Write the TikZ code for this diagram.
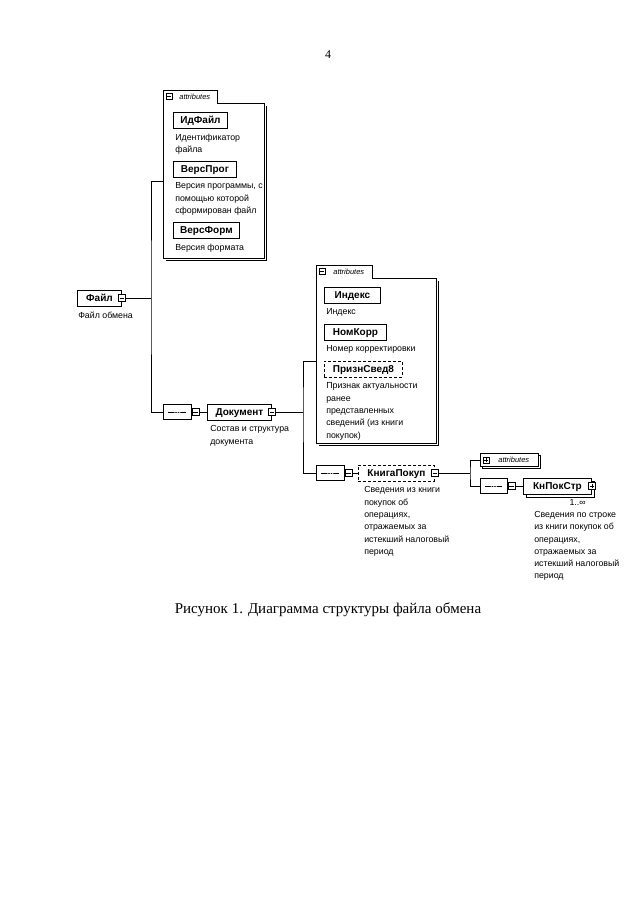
\documentclass[tikz,border=0pt]{standalone}
\usepackage{fontspec}
\setmainfont{Liberation Serif}
\newfontfamily\diagfont{Liberation Sans}
\usetikzlibrary{shapes.misc, positioning, shadows}

\begin{document}
\begin{tikzpicture}[
        x=1pt, y=-1pt,
        line width=0.6pt,
        desc/.style={font=\diagfont\fontsize{8.8}{12.3}\selectfont, align=left, inner sep=0pt, anchor=north west},
        elem/.style={rectangle, draw, line width=0.9pt, fill=white, font=\diagfont\bfseries\fontsize{10}{12}\selectfont, minimum height=16pt, text height=7.8pt, text depth=1.6pt, inner xsep=3pt, inner ysep=0pt, anchor=west},
        optelem/.style={elem, densely dashed},
        multi/.style={elem, copy shadow={shadow xshift=3pt, shadow yshift=-3pt}},
        btn/.style={rectangle, draw, line width=0.6pt, fill=white, minimum size=7pt, inner sep=0pt, path picture={\draw ([xshift=1.3pt]path picture bounding box.west) -- ([xshift=-1.3pt]path picture bounding box.east);}},
        btnplus/.style={btn, path picture={\draw ([xshift=1.3pt]path picture bounding box.west) -- ([xshift=-1.3pt]path picture bounding box.east); \draw ([yshift=1.3pt]path picture bounding box.south) -- ([yshift=-1.3pt]path picture bounding box.north);}},
        seq/.style={chamfered rectangle, chamfered rectangle xsep=4pt, draw, fill=white, minimum width=28pt, minimum height=15pt, inner sep=0pt, anchor=west, path picture={\draw ([xshift=5pt]path picture bounding box.west) -- ([xshift=-5pt]path picture bounding box.east); \foreach \dx in {-2.4pt, 0pt, 2.4pt} \fill ([xshift=\dx]path picture bounding box.center) circle (0.8pt);}},
        grp/.style={rectangle, inner sep=0pt, anchor=north west},
        grptab/.style={rectangle, inner xsep=2pt, inner ysep=0pt, minimum height=12pt, anchor=south west, font=\diagfont\itshape\fontsize{7.5}{8}\selectfont},
        grpcoll/.style={rectangle, draw, fill=white, inner xsep=2pt, inner ysep=0pt, minimum height=13pt, anchor=west, font=\diagfont\itshape\fontsize{7.5}{8}\selectfont, copy shadow={shadow xshift=1.5pt, shadow yshift=-1.5pt}}
    ]
        \path [use as bounding box, fill=white] (0,0) rectangle (640,905);
        \node (pageNum) [font=\fontsize{12}{14}\selectfont] at (328,55) {4};

        \node (file) [elem, minimum width=44pt] at (77,298) {Файл\hspace{5pt}};
        \node (fileBtn) [btn] at (file.east) {};
        \node (fileDesc) [desc, below right=5pt and 1pt of file.south west] {Файл обмена};

        \node (attrs1) [grp, minimum width=101pt, minimum height=155pt] at (163,103) {};
        \node (attrs1Tab) [grptab, minimum width=54pt] at (attrs1.north west) {\hspace{9pt}attributes\hfill};
        \node (attrs1Btn) [btn, minimum size=6pt] at ([xshift=6pt]attrs1Tab.west) {};
        \draw (attrs1Tab.south east) -- (attrs1.north east) -- (attrs1.south east) -- (attrs1.south west) -- (attrs1Tab.north west) -- (attrs1Tab.north east) -- cycle;
        \draw [line width=1pt] ([shift={(2pt,-3pt)}]attrs1.north east) -- ([shift={(2pt,-2pt)}]attrs1.south east) -- ([shift={(3pt,-2pt)}]attrs1.south west);
        \node (idFile) [elem, minimum width=54pt] at (173,120) {ИдФайл};
        \node (idFileDesc) [desc, below right=5pt and 2pt of idFile.south west] {Идентификатор\\файла};
        \node (versProg) [elem, minimum width=63pt] at (173,169) {ВерсПрог};
        \node (versProgDesc) [desc, below right=5pt and 2pt of versProg.south west] {Версия программы, с\\помощью которой\\сформирован файл};
        \node (versForm) [elem, minimum width=66pt] at (173,230) {ВерсФорм};
        \node (versFormDesc) [desc, below right=5pt and 2pt of versForm.south west] {Версия формата};

        \node (seq1) [seq] at (163,412) {};
        \node (seq1Btn) [btn, anchor=west] at (seq1.east) {};
        \node (doc) [elem, minimum width=64pt] at (207,412) {Документ\hspace{6pt}};
        \node (docBtn) [btn] at (doc.east) {};
        \node (docDesc) [desc, below right=5pt and 3pt of doc.south west] {Состав и структура\\документа};

        \node (attrs2) [grp, minimum width=120pt, minimum height=165pt] at (316,278) {};
        \node (attrs2Tab) [grptab, minimum width=56pt] at (attrs2.north west) {\hspace{9pt}attributes\hfill};
        \node (attrs2Btn) [btn, minimum size=6pt] at ([xshift=6pt]attrs2Tab.west) {};
        \draw (attrs2Tab.south east) -- (attrs2.north east) -- (attrs2.south east) -- (attrs2.south west) -- (attrs2Tab.north west) -- (attrs2Tab.north east) -- cycle;
        \draw [line width=1pt] ([shift={(2pt,-3pt)}]attrs2.north east) -- ([shift={(2pt,-2pt)}]attrs2.south east) -- ([shift={(3pt,-2pt)}]attrs2.south west);
        \node (index) [elem, minimum width=56pt] at (324,295) {Индекс};
        \node (indexDesc) [desc, below right=5pt and 2pt of index.south west] {Индекс};
        \node (corrNum) [elem, minimum width=62pt] at (324,332) {НомКорр};
        \node (corrNumDesc) [desc, below right=5pt and 2pt of corrNum.south west] {Номер корректировки};
        \node (flag) [optelem, minimum width=78pt] at (324,369) {ПризнСвед8};
        \node (flagDesc) [desc, below right=5pt and 2pt of flag.south west] {Признак актуальности\\ранее\\представленных\\сведений (из книги\\покупок)};

        \node (seq2) [seq] at (316,473) {};
        \node (seq2Btn) [btn, anchor=west] at (seq2.east) {};
        \node (book) [optelem, minimum width=76pt] at (358,473) {КнигаПокуп\hspace{6pt}};
        \node (bookBtn) [btn] at (book.east) {};
        \node (bookDesc) [desc, below right=5pt and 6pt of book.south west] {Сведения из книги\\покупок об\\операциях,\\отражаемых за\\истекший налоговый\\период};

        \node (attrs3) [grpcoll, minimum width=58pt] at (480,460) {\hspace{9pt}attributes\hfill};
        \node (attrs3Btn) [btnplus, minimum size=6pt] at ([xshift=6pt]attrs3.west) {};
        \node (seq3) [seq, minimum width=27pt] at (480,486) {};
        \node (seq3Btn) [btn, anchor=west] at (seq3.east) {};
        \node (lineRec) [multi, minimum width=68pt] at (523,486) {КнПокСтр\hspace{6pt}};
        \node (lineRecBtn) [btnplus] at (lineRec.east) {};
        \node (lineRecOcc) [desc, below left=5pt and 6pt of lineRec.south east] {1..∞};
        \node (lineRecDesc) [desc] at (534,511) {Сведения по строке\\из книги покупок об\\операциях,\\отражаемых за\\истекший налоговый\\период};

        \coordinate (fork1) at (151,298);
        \coordinate (fork2) at (303,412);
        \coordinate (fork3) at (470,473);
        \draw (fileBtn) -- (fork1);
        \draw (attrs1.west) -| (fork1) |- (seq1.west);
        \draw (seq1Btn) -- (doc);
        \draw (docBtn) -- (fork2);
        \draw (attrs2.west) -| (fork2) |- (seq2.west);
        \draw (seq2Btn) -- (book);
        \draw (bookBtn) -- (fork3);
        \draw (attrs3.west) -| (fork3) |- (seq3.west);
        \draw (seq3Btn) -- (lineRec);

        \node (caption) [font=\fontsize{15}{18}\selectfont] at (328,610) {Рисунок 1. Диаграмма структуры файла обмена};
    \end{tikzpicture}
\end{document}
